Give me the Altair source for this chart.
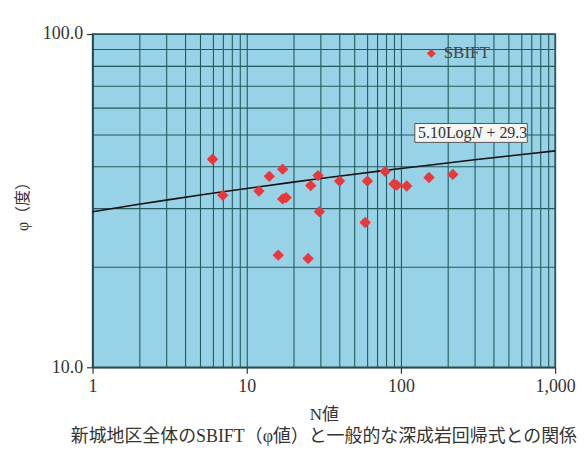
import altair as alt
import numpy as np
import pandas as pd

# ---- data ----
n_values = [6, 7, 12, 14, 17.1, 17.1, 18, 16, 25, 26, 29, 29.6, 40, 60.6, 58.6,
            79, 90, 94, 109, 152, 217]
phi_values = [42.1, 32.8, 33.8, 37.4, 39.3, 32.0, 32.3, 21.7, 21.2, 35.1, 37.6,
              29.3, 36.2, 36.2, 27.2, 38.7, 35.5, 35.2, 35.0, 37.1, 37.9]
series_name = "SBIFT"

slope, intercept = 5.10, 29.3
line_n = [1, 2, 3, 5, 7, 10, 20, 30, 50, 70, 100, 200, 300, 500, 700, 1000]
line_phi = [slope * np.log10(n) + intercept for n in line_n]

x_grid = [1, 2, 3, 4, 5, 6, 7, 8, 9, 10, 20, 30, 40, 50, 60, 70, 80, 90,
          100, 200, 300, 400, 500, 600, 700, 800, 900, 1000]
y_grid = [10, 20, 30, 40, 50, 60, 70, 80, 90, 100]

# regression label box (data coords)
box_n = [123, 660]
box_phi = [47.3, 53.9]
label_n, label_phi = 287, 50.5

caption = "新城地区全体のSBIFT（φ値）と一般的な深成岩回帰式との関係"
x_title = "N値"
y_title = "φ（度）"

serif = "'Liberation Serif', serif"
cjk = "'Liberation Serif', 'Noto Sans CJK JP', serif"
text_color = "#333333"
grid_color = "#24595d"

pts = pd.DataFrame({"N": n_values, "phi": phi_values, "series": series_name})
line_df = pd.DataFrame({"N": line_n, "phi": line_phi})
box_df = pd.DataFrame({"n1": [box_n[0]], "n2": [box_n[1]],
                       "p1": [box_phi[0]], "p2": [box_phi[1]]})
lab_df = pd.DataFrame({"N": [label_n], "phi": [label_phi],
                       "t1": [f"{slope:.2f}Log"], "t2": ["N"],
                       "t3": [f"+ {intercept}"]})

xs = alt.Scale(type="log", domain=[1, 1000], nice=False)
ys = alt.Scale(type="log", domain=[10, 100], nice=False)

x_major_test = "indexof([1,10,100,1000], datum.value) >= 0"
y_major_test = "indexof([10,100], datum.value) >= 0"

x_axis = alt.Axis(
    values=x_grid,
    labelExpr=f"{x_major_test} ? format(datum.value, ',') : ''",
    labelOverlap=False, labelFlush=False,
    labelFont=serif, labelFontSize=18, labelColor=text_color, labelPadding=4,
    tickOpacity={"condition": {"test": x_major_test, "value": 1}, "value": 0},
    tickColor="#333", tickSize=6, tickWidth=1.2,
    grid=True, gridColor=grid_color, gridWidth=1.1, gridOpacity=1,
    domain=True, domainColor="#2a4a4c", domainWidth=1.5,
    title=x_title, titleFont=cjk, titleFontSize=17, titleFontWeight="normal",
    titleColor=text_color, titlePadding=12,
)
y_axis = alt.Axis(
    values=y_grid,
    labelExpr=f"{y_major_test} ? format(datum.value, '.1f') : ''",
    labelOverlap=False, labelFlush=False,
    labelFont=serif, labelFontSize=18, labelColor=text_color, labelPadding=4,
    tickOpacity={"condition": {"test": y_major_test, "value": 1}, "value": 0},
    tickColor="#333", tickSize=6, tickWidth=1.2,
    grid=True, gridColor=grid_color, gridWidth=1.1, gridOpacity=1,
    domain=True, domainColor="#2a4a4c", domainWidth=1.5,
    title=y_title, titleFont=cjk, titleFontSize=16, titleFontWeight="normal",
    titleColor=text_color, titleAngle=270, titleX=-70, titleY=169,
    titleAlign="center", titleBaseline="middle",
)

points = alt.Chart(pts).mark_point(shape="diamond", filled=True, size=130, opacity=1).encode(
    x=alt.X("N:Q", scale=xs, axis=x_axis),
    y=alt.Y("phi:Q", scale=ys, axis=y_axis),
    color=alt.Color("series:N",
                    scale=alt.Scale(domain=[series_name], range=["#e8383c"]),
                    legend=alt.Legend(orient="none", legendX=332, legendY=11,
                                      title=None, padding=0,
                                      labelFont=serif, labelFontSize=17,
                                      labelColor="#444", labelOffset=4,
                                      symbolType="diamond", symbolSize=80,
                                      symbolStrokeWidth=0, symbolOpacity=1)),
)

reg = alt.Chart(line_df).mark_line(color="#111111", strokeWidth=1.6).encode(
    x=alt.X("N:Q", scale=xs), y=alt.Y("phi:Q", scale=ys))

box = alt.Chart(box_df).mark_rect(fill="#f4f7f6", stroke="#555555", strokeWidth=1).encode(
    x=alt.X("n1:Q", scale=xs), x2="n2:Q",
    y=alt.Y("p1:Q", scale=ys), y2="p2:Q")

t1 = alt.Chart(lab_df).mark_text(align="right", baseline="middle", font=serif,
                                 fontSize=16, color=text_color).encode(
    x=alt.X("N:Q", scale=xs), y=alt.Y("phi:Q", scale=ys), text="t1:N")
t2 = alt.Chart(lab_df).mark_text(align="left", baseline="middle", font=serif,
                                 fontSize=16, fontStyle="italic", color=text_color).encode(
    x=alt.X("N:Q", scale=xs), y=alt.Y("phi:Q", scale=ys), text="t2:N")
t3 = alt.Chart(lab_df).mark_text(align="left", baseline="middle", font=serif, dx=15,
                                 fontSize=16, color=text_color).encode(
    x=alt.X("N:Q", scale=xs), y=alt.Y("phi:Q", scale=ys), text="t3:N")

chart = alt.layer(reg, points, box, t1, t2, t3).properties(
    width=465, height=335,
    autosize=alt.AutoSizeParams(type="none"),
    padding={"left": 85, "top": 25, "right": 25, "bottom": 82},
    background="white",
    title=alt.TitleParams(text=caption, orient="bottom", anchor="middle",
                          font=cjk, fontSize=18, fontWeight="normal",
                          color=text_color, offset=5),
).configure_view(fill="#98d2e6", stroke="#2a4a4c", strokeWidth=1.5)

chart.save("out.html", embed_options={"renderer": "svg", "actions": False})
